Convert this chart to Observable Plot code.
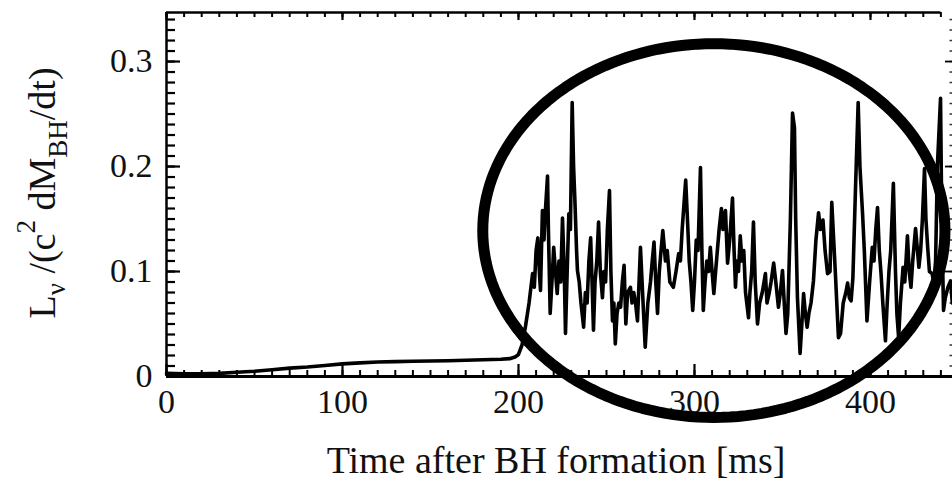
<!DOCTYPE html>
<html><head><meta charset="utf-8">
<script src="https://cdn.jsdelivr.net/npm/d3@7"></script>
<script src="https://cdn.jsdelivr.net/npm/@observablehq/plot@0.6"></script>
<style>body{margin:0;background:#fff} svg{display:block}</style>
</head><body><div id="chart"></div>
<script>
// Time after BH formation [ms]
const timeMs = [
  0,10,20,30,40,50,60,70,80,90,100,110,120,130,140,150,160,170,180,190,195,198,200,202,204,206,208,
  209,210,211,212,212.5,213.6,214.5,215,216.5,217,218,219,220,221,222,223,224,225,226,226.7,227.5,228.6,229.5,
  230.5,231.3,232,233,233.5,234.5,235.5,237,238,239,240,241,241.8,242.6,243.5,244.5,245.5,246.5,247.7,248.5,249.5,
  250.5,251.7,252.5,253.4,254.2,255,256,257,258,259,260,261,262,263.6,264.5,265.5,266.5,267.6,268.5,269.3,270.5,
  272,273.5,275,276,277,278,279,280,281,282,283.5,284.5,286,288,289.5,291,292,293,295,296,297,298,299,300,
  301,302,303.4,304.2,305,306,307,308,309,310,311,312,313,314,315.3,316.2,317.6,318.8,320,321.6,322.5,323.3,
  324,325,326,327,328,329,330.7,331.5,332.5,333.5,334.5,335.8,337,338.5,340.3,341.2,342.5,343.5,345,346.2,347.7,
  348.8,350,351,352,353,354.5,355.7,356.8,357.5,358.5,360,361,362,363,364,365,366.2,367.6,369,370.5,371.5,373,
  374.2,375.6,377,378,380,381.8,383,384.5,386,387,388,389,390,391.5,393,394,395.5,396.5,398,399.5,401,402,403,
  404,405,406,407,408.5,409.5,410.5,411.5,413,414.2,415,416,417,418.5,419.5,421,422,423,424,425.6,426.7,427.5,
  428.5,429.5,430.7,431.5,432.5,433.5,435,436,437,438,439.8,440.5,441.5,442.5,444,445.5,446.5
];
// L_nu / (c^2 dM_BH/dt)
const lumRatio = [
  0.003,0.0025,0.0025,0.003,0.004,0.005,0.0065,0.008,0.009,0.0105,0.012,0.013,0.0138,0.0142,0.0145,0.0148,0.015,0.0155,0.016,0.0165,0.017,0.0185,0.021,0.03,0.048,0.07,0.098,
  0.085,0.12,0.132,0.095,0.082,0.158,0.13,0.15,0.191,0.14,0.06,0.09,0.123,0.10,0.079,0.11,0.09,0.151,0.10,0.041,0.09,0.155,0.14,
  0.261,0.20,0.17,0.12,0.101,0.09,0.07,0.047,0.08,0.07,0.11,0.132,0.09,0.044,0.09,0.11,0.147,0.10,0.075,0.10,0.09,
  0.14,0.177,0.10,0.053,0.07,0.031,0.06,0.07,0.066,0.09,0.106,0.05,0.08,0.085,0.07,0.08,0.07,0.053,0.09,0.123,0.08,
  0.028,0.07,0.09,0.11,0.128,0.09,0.06,0.10,0.12,0.139,0.11,0.12,0.09,0.085,0.10,0.117,0.11,0.14,0.187,0.15,0.11,0.09,0.063,0.09,
  0.13,0.12,0.199,0.12,0.063,0.09,0.11,0.10,0.123,0.10,0.079,0.10,0.12,0.14,0.16,0.14,0.158,0.108,0.13,0.170,0.12,0.085,
  0.11,0.10,0.134,0.11,0.12,0.08,0.056,0.08,0.10,0.147,0.09,0.05,0.07,0.08,0.098,0.07,0.08,0.09,0.108,0.09,0.066,
  0.08,0.101,0.07,0.041,0.06,0.15,0.251,0.237,0.15,0.075,0.022,0.05,0.079,0.06,0.047,0.06,0.07,0.091,0.13,0.156,0.14,0.149,
  0.12,0.098,0.10,0.166,0.10,0.037,0.041,0.07,0.08,0.089,0.075,0.072,0.094,0.18,0.261,0.20,0.155,0.12,0.053,0.09,0.123,0.11,0.14,
  0.161,0.12,0.098,0.07,0.034,0.07,0.10,0.12,0.184,0.10,0.06,0.037,0.07,0.104,0.09,0.134,0.10,0.085,0.11,0.141,0.12,0.104,
  0.12,0.15,0.198,0.15,0.123,0.10,0.098,0.09,0.11,0.2,0.265,0.15,0.063,0.075,0.085,0.091,0.07
];
const xTicks = [0, 100, 200, 300, 400];
const xTickLabels = ["0", "100", "200", "300", "400"];
const yTicks = [0, 0.1, 0.2, 0.3];
const yTickLabels = ["0", "0.1", "0.2", "0.3"];
const xMinorTicks = d3.range(0, 441, 10);
const yMinorTicks = d3.range(1, 35).map(i => i / 100);
const xDomain = [0, 446.6];
const yDomain = [0, 0.3467];
const xLabel = "Time after BH formation [ms]";
// highlight ellipse annotation (data units): center and radii
const ellipseCenter = [311, 0.139];
const ellipseRadii = [131.3, 0.178];

const W = 952, H = 480, mL = 166, mR = 0, mT = 12, mB = 104;
const frameW = W - mL - mR, frameH = H - mT - mB;
const font = "'Liberation Serif', 'DejaVu Serif', serif";
// pixel lengths expressed in data units for tick marks
const pxY = (yDomain[1] - yDomain[0]) / frameH;
const pxX = (xDomain[1] - xDomain[0]) / frameW;
const yTop = yDomain[1], xRight = xDomain[1];

const rows = timeMs.map((t, i) => ({t, v: lumRatio[i]}));
const ellipsePts = d3.range(0, 360, 2).map(a => {
  const r = a * Math.PI / 180;
  return {x: ellipseCenter[0] + ellipseRadii[0] * Math.cos(r), y: ellipseCenter[1] + ellipseRadii[1] * Math.sin(r)};
});

const plot = Plot.plot({
  width: W, height: H,
  marginLeft: mL, marginRight: mR, marginTop: mT, marginBottom: mB,
  style: {fontFamily: font, background: "#fff", color: "#111"},
  x: {domain: xDomain, axis: null},
  y: {domain: yDomain, axis: null},
  marks: [
    Plot.axisX(xTicks, {tickSize: 0, tickPadding: 12, fontSize: 34, fontFamily: font, fill: "#111",
      tickFormat: d => xTickLabels[xTicks.indexOf(d)], label: null}),
    Plot.axisY(yTicks, {tickSize: 0, tickPadding: 14, fontSize: 34, fontFamily: font, fill: "#111",
      tickFormat: d => yTickLabels[yTicks.indexOf(d)], label: null}),
    // ticks bottom (inward)
    Plot.ruleX(xMinorTicks, {x: d => d, y1: 0, y2: 6 * pxY, stroke: "#000", strokeWidth: 2}),
    Plot.ruleX(xTicks, {x: d => d, y1: 0, y2: 12 * pxY, stroke: "#000", strokeWidth: 2.2}),
    // ticks top (inward)
    Plot.ruleX(xMinorTicks, {x: d => d, y1: yTop, y2: yTop - 5 * pxY, stroke: "#000", strokeWidth: 2}),
    Plot.ruleX(xTicks, {x: d => d, y1: yTop, y2: yTop - 8 * pxY, stroke: "#000", strokeWidth: 2.2}),
    // ticks left (inward)
    Plot.ruleY(yMinorTicks, {y: d => d, x1: 0, x2: 9 * pxX, stroke: "#000", strokeWidth: 2.2}),
    Plot.ruleY(yTicks, {y: d => d, x1: 0, x2: 14 * pxX, stroke: "#000", strokeWidth: 2.2}),
    // ticks right edge (inward)
    Plot.ruleY(yMinorTicks, {y: d => d, x1: xRight, x2: xRight - 2.5 * pxX, stroke: "#333", strokeWidth: 1.5}),
    Plot.ruleY(yTicks, {y: d => d, x1: xRight, x2: xRight - 7 * pxX, stroke: "#000", strokeWidth: 1.8}),
    // frame
    Plot.ruleX([0], {stroke: "#000", strokeWidth: 2.5}),
    Plot.ruleY([yTop], {x1: 0, x2: 440, stroke: "#000", strokeWidth: 2.5}),
    Plot.ruleY([0], {stroke: "#000", strokeWidth: 3}),
    // data
    Plot.line(rows, {x: "t", y: "v", stroke: "#000", strokeWidth: 3.6, strokeLinejoin: "round"}),
    // ellipse annotation
    Plot.line(ellipsePts, {x: "x", y: "y", curve: "linear-closed", stroke: "#000", strokeWidth: 11})
  ]
});

const svg = d3.select(plot);
svg.append("text")
  .attr("x", mL + frameW * 0.5 - 3).attr("y", 473)
  .attr("text-anchor", "middle")
  .attr("font-family", font).attr("font-size", 38).attr("fill", "#111")
  .text(xLabel);

const yl = svg.append("text")
  .attr("transform", "translate(55,193) rotate(-90)")
  .attr("text-anchor", "middle")
  .attr("font-family", font).attr("font-size", 38).attr("fill", "#111");
yl.append("tspan").text("L");
yl.append("tspan").attr("dy", 10).attr("font-size", 27).text("ν");
yl.append("tspan").attr("dy", -10).text(" /(c");
yl.append("tspan").attr("dy", -20).attr("font-size", 27).text("2");
yl.append("tspan").attr("dy", 20).text(" dM");
yl.append("tspan").attr("dy", 12).attr("font-size", 27).text("BH");
yl.append("tspan").attr("dy", -12).text("/dt)");

document.getElementById("chart").appendChild(plot);
</script>
</body></html>
